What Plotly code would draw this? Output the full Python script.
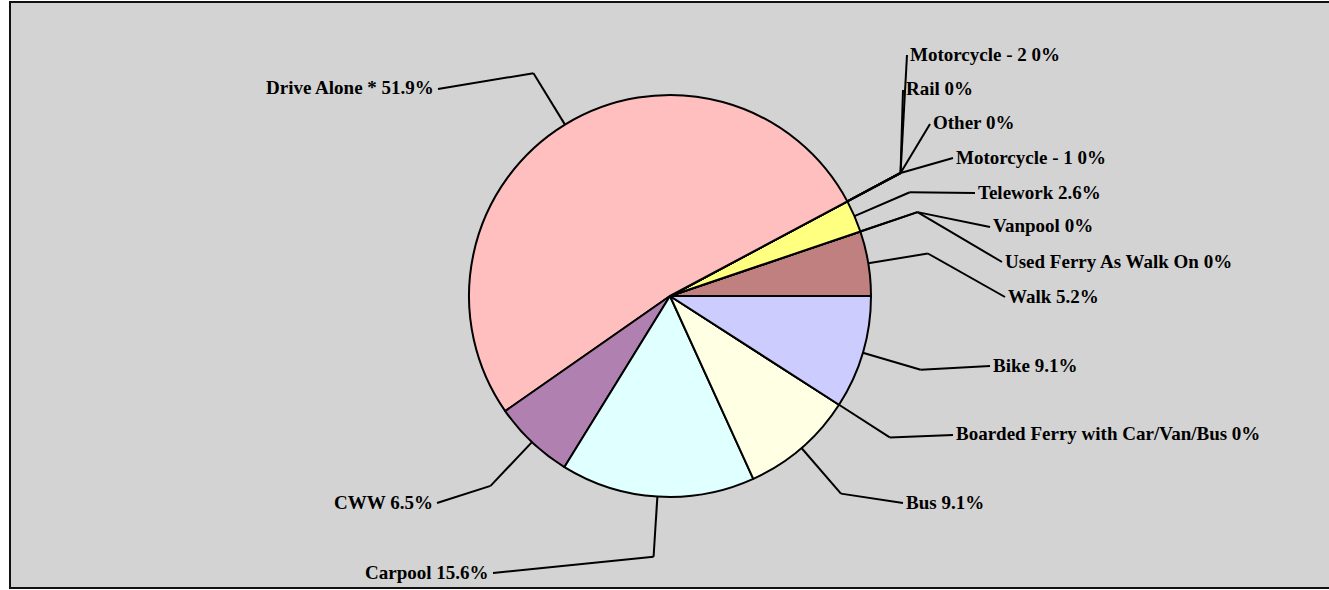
import math
import plotly.graph_objects as go

# ---------------- data (counter-clockwise from 3 o'clock) ----------------
modes = ["Walk", "Used Ferry As Walk On", "Vanpool", "Telework", "Motorcycle - 1",
         "Other", "Rail", "Motorcycle - 2", "Drive Alone *", "CWW", "Carpool",
         "Bus", "Boarded Ferry with Car/Van/Bus", "Bike"]
shares = [5.2, 0, 0, 2.6, 0, 0, 0, 0, 51.9, 6.5, 15.6, 9.1, 0, 9.1]

# ---------------- styling / layout ----------------
colors = ["#C08080", "#FFFFFF", "#FFFFFF", "#FFFF80", "#FFFFFF", "#FFFFFF", "#FFFFFF",
          "#FFFFFF", "#FFBFBF", "#B080B0", "#E0FFFF", "#FFFFE3", "#FFFFFF", "#CCCCFF"]

W, H = 1329, 590
CX, CY, R = 670, 296, 201          # pie centre / radius in pixels
ELBOW = 1.3                        # elbow of leader line, as a multiple of R

# end of each leader line (pixels) and which side the text sits on
label_end = [(1005, 297, "left"), (1002, 262, "left"), (990, 227, "left"),
             (975, 193, "left"), (953, 158, "left"), (930, 124, "left"),
             (903, 90, "left"), (907, 55, "left"), (438, 89, "right"),
             (437, 503, "right"), (493, 573, "right"), (903, 503, "left"),
             (953, 435, "left"), (990, 366, "left")]


def px(x):
    return x / W


def py(y):
    return 1 - y / H


total = sum(shares)
# plotly keeps the first slice in its clockwise position when direction is
# counterclockwise, so offset the rotation by the first slice's angle
rotation = 90 - shares[0] / total * 360

fig = go.Figure()
fig.add_trace(go.Pie(
    values=shares, labels=modes, sort=False, direction="counterclockwise",
    rotation=rotation, textinfo="none", hoverinfo="label+percent",
    marker=dict(colors=colors, line=dict(color="black", width=2)),
    domain=dict(x=[px(CX - R), px(CX + R)], y=[py(CY + R), py(CY - R)]),
    showlegend=False,
))

shapes = [dict(type="rect", xref="paper", yref="paper", layer="below",
               x0=px(10), x1=px(1340), y0=py(588), y1=py(2),
               fillcolor="#D3D3D3", line=dict(color="#111111", width=2))]
annotations = []

cum = 0.0
for name, v, (ex, ey, side) in zip(modes, shares, label_end):
    mid = (cum + v / 2) / total * 2 * math.pi
    cum += v
    sx, sy = CX + R * math.cos(mid), CY - R * math.sin(mid)
    kx, ky = CX + ELBOW * R * math.cos(mid), CY - ELBOW * R * math.sin(mid)
    for (a, b, c, d) in [(sx, sy, kx, ky), (kx, ky, ex, ey)]:
        shapes.append(dict(type="line", xref="paper", yref="paper",
                           x0=px(a), y0=py(b), x1=px(c), y1=py(d),
                           line=dict(color="black", width=2)))
    txt = f"{name} {v:g}%"
    tx = ex + 1 if side == "left" else ex - 2
    annotations.append(dict(
        x=px(tx), y=py(ey - 1), xref="paper", yref="paper", text=f"<b>{txt}</b>",
        showarrow=False, xanchor=side, yanchor="middle",
        font=dict(family="Liberation Serif", size=19, color="black")))

fig.update_layout(
    width=W, height=H, margin=dict(l=0, r=0, t=0, b=0),
    paper_bgcolor="white", plot_bgcolor="white",
    shapes=shapes, annotations=annotations,
)

fig.write_html("out.html", config={"displayModeBar": False},
               post_script="document.body.style.margin='0';document.body.style.overflow='hidden';")
